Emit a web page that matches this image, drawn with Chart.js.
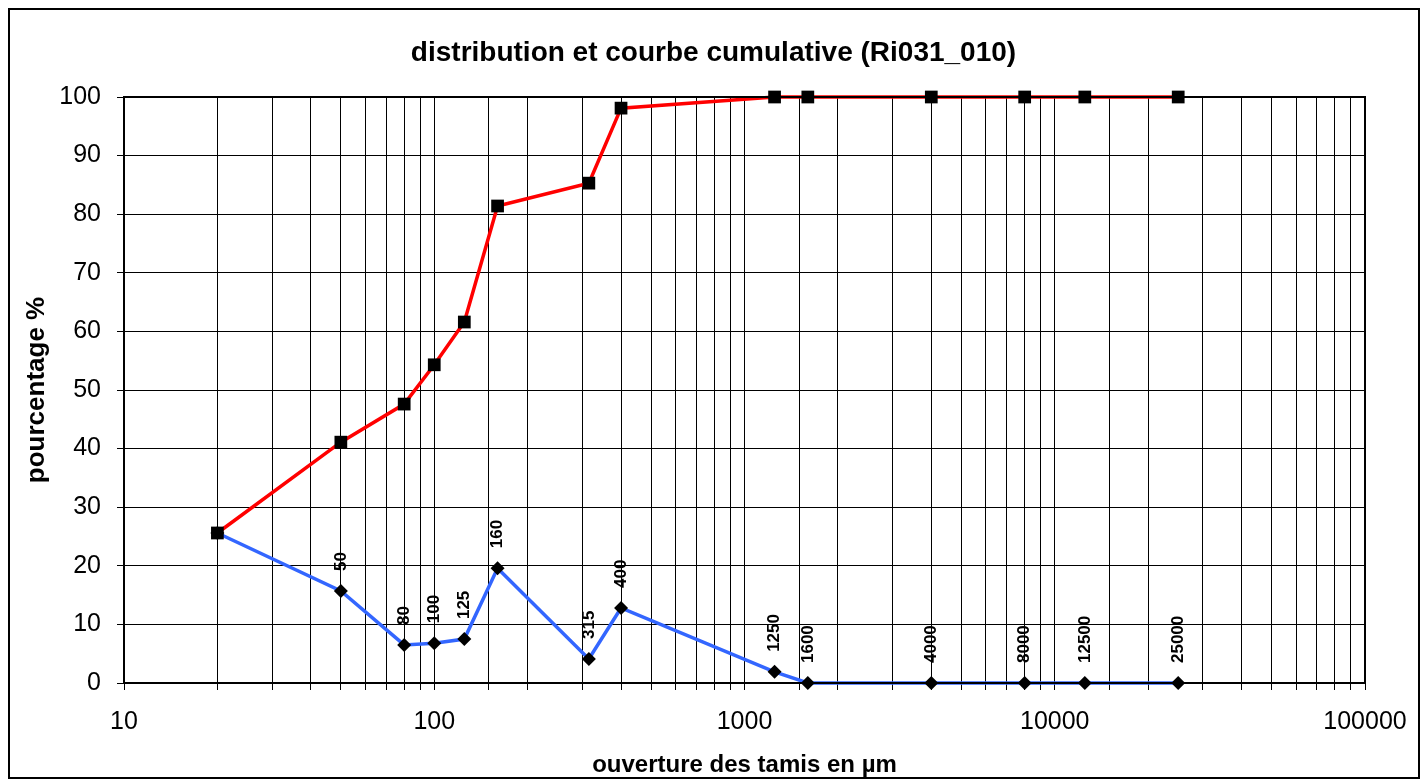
<!DOCTYPE html>
<html>
<head>
<meta charset="utf-8">
<script src="https://cdn.jsdelivr.net/npm/chart.js@4.4.1/dist/chart.umd.min.js"></script>
<style>
  html, body { margin: 0; padding: 0; background: #fff; overflow: hidden; }
  #wrap { width: 1427px; height: 784px; position: relative; }
</style>
</head>
<body>
<div id="wrap"><canvas id="myChart"></canvas></div>
<script>
// ouverture des tamis (µm)
var tamis = [20, 50, 80, 100, 125, 160, 315, 400, 1250, 1600, 4000, 8000, 12500, 25000];
// courbe cumulative (%)
var cumul = [25.6, 41.1, 47.6, 54.3, 61.6, 81.4, 85.3, 98.1, 100, 100, 100, 100, 100, 100];
// distribution (%)
var distribution = [25.6, 15.7, 6.5, 6.8, 7.5, 19.6, 4.1, 12.8, 1.9, 0, 0, 0, 0, 0];
// étiquettes de l'axe x
var xTicks = [10, 100, 1000, 10000, 100000];

var titre = 'distribution et courbe cumulative (Ri031_010)';
var police = '"Liberation Sans", Arial, sans-serif';

function points(vals) {
    var out = [];
    for (var i in tamis) {
        out.push({ x: tamis[i], y: vals[i] });
    }
    return out;
}

// fond, titre, cadre extérieur + cadre de la zone de tracé
var cadre = {
    id: 'cadre',
    beforeDraw: function (chart) {
        var ctx = chart.ctx;
        ctx.save();
        ctx.fillStyle = '#fff';
        ctx.fillRect(0, 0, chart.width, chart.height);
        ctx.restore();
    },
    afterDraw: function (chart) {
        var ctx = chart.ctx, a = chart.chartArea;
        ctx.save();
        ctx.strokeStyle = '#000';
        ctx.lineWidth = 2;
        ctx.strokeRect(9, 9, 1410, 769);
        ctx.strokeRect(a.left, a.top, a.right - a.left, a.bottom - a.top);
        ctx.fillStyle = '#000';
        ctx.font = 'bold 28px ' + police;
        ctx.textAlign = 'center';
        ctx.textBaseline = 'middle';
        ctx.fillText(titre, chart.width / 2, 53);
        ctx.restore();
    }
};

// étiquettes verticales au-dessus des points de la distribution
var etiquettes = {
    id: 'etiquettes',
    afterDatasetsDraw: function (chart) {
        var ctx = chart.ctx;
        var meta = chart.getDatasetMeta(1);
        ctx.save();
        ctx.font = 'bold 17px ' + police;
        ctx.fillStyle = '#000';
        ctx.textAlign = 'left';
        ctx.textBaseline = 'middle';
        for (var i = 1; i < meta.data.length; i++) {
            var p = meta.data[i];
            ctx.save();
            ctx.translate(p.x, p.y - 20);
            ctx.rotate(-Math.PI / 2);
            ctx.fillText(String(tamis[i]), 0, 0);
            ctx.restore();
        }
        ctx.restore();
    }
};

var ctx = document.getElementById('myChart').getContext('2d');

var chart = new Chart(ctx, {
    type: 'line',
    data: {
        datasets: [{
            label: 'cumulative',
            data: points(cumul),
            borderColor: '#ff0000',
            borderWidth: 3.5,
            pointStyle: 'rect',
            pointRadius: 9,
            pointBackgroundColor: '#000',
            pointBorderColor: '#000',
            pointBorderWidth: 0,
            tension: 0,
            clip: false
        }, {
            label: 'distribution',
            data: points(distribution),
            borderColor: '#3366ff',
            borderWidth: 3.5,
            pointStyle: 'rectRot',
            pointRadius: 7,
            pointBackgroundColor: '#000',
            pointBorderColor: '#000',
            pointBorderWidth: 0,
            tension: 0,
            clip: false
        }]
    },
    options: {
        responsive: true,
        maintainAspectRatio: false,
        animation: false,
        layout: { padding: { left: 10, right: 62, top: 97, bottom: 0 } },
        plugins: {
            legend: { display: false },
            tooltip: { enabled: false },
            title: { display: false }
        },
        scales: {
            x: {
                type: 'logarithmic',
                min: 10,
                max: 100000,
                afterFit: function (axis) { axis.height = 101; },
                grid: { color: '#000', lineWidth: 1, tickLength: 7, drawTicks: true },
                border: { display: false },
                ticks: {
                    autoSkip: false,
                    maxRotation: 0,
                    color: '#000',
                    padding: 17,
                    font: { family: police, size: 25 },
                    callback: function (v) {
                        return xTicks.indexOf(v) >= 0 ? String(v) : '';
                    }
                },
                title: {
                    display: true,
                    text: 'ouverture des tamis en µm',
                    color: '#000',
                    font: { family: police, size: 24, weight: 'bold' },
                    padding: { top: 0, bottom: 4 }
                }
            },
            y: {
                min: 0,
                max: 100,
                afterFit: function (axis) { axis.width = 114; },
                grid: { color: '#000', lineWidth: 1, tickLength: 7 },
                border: { display: false },
                ticks: {
                    stepSize: 10,
                    color: '#000',
                    padding: 16,
                    font: { family: police, size: 25 }
                },
                title: {
                    display: true,
                    text: 'pourcentage %',
                    color: '#000',
                    font: { family: police, size: 26, weight: 'bold' },
                    padding: { top: 11, bottom: 0 }
                }
            }
        }
    },
    plugins: [cadre, etiquettes]
});
</script>
</body>
</html>
